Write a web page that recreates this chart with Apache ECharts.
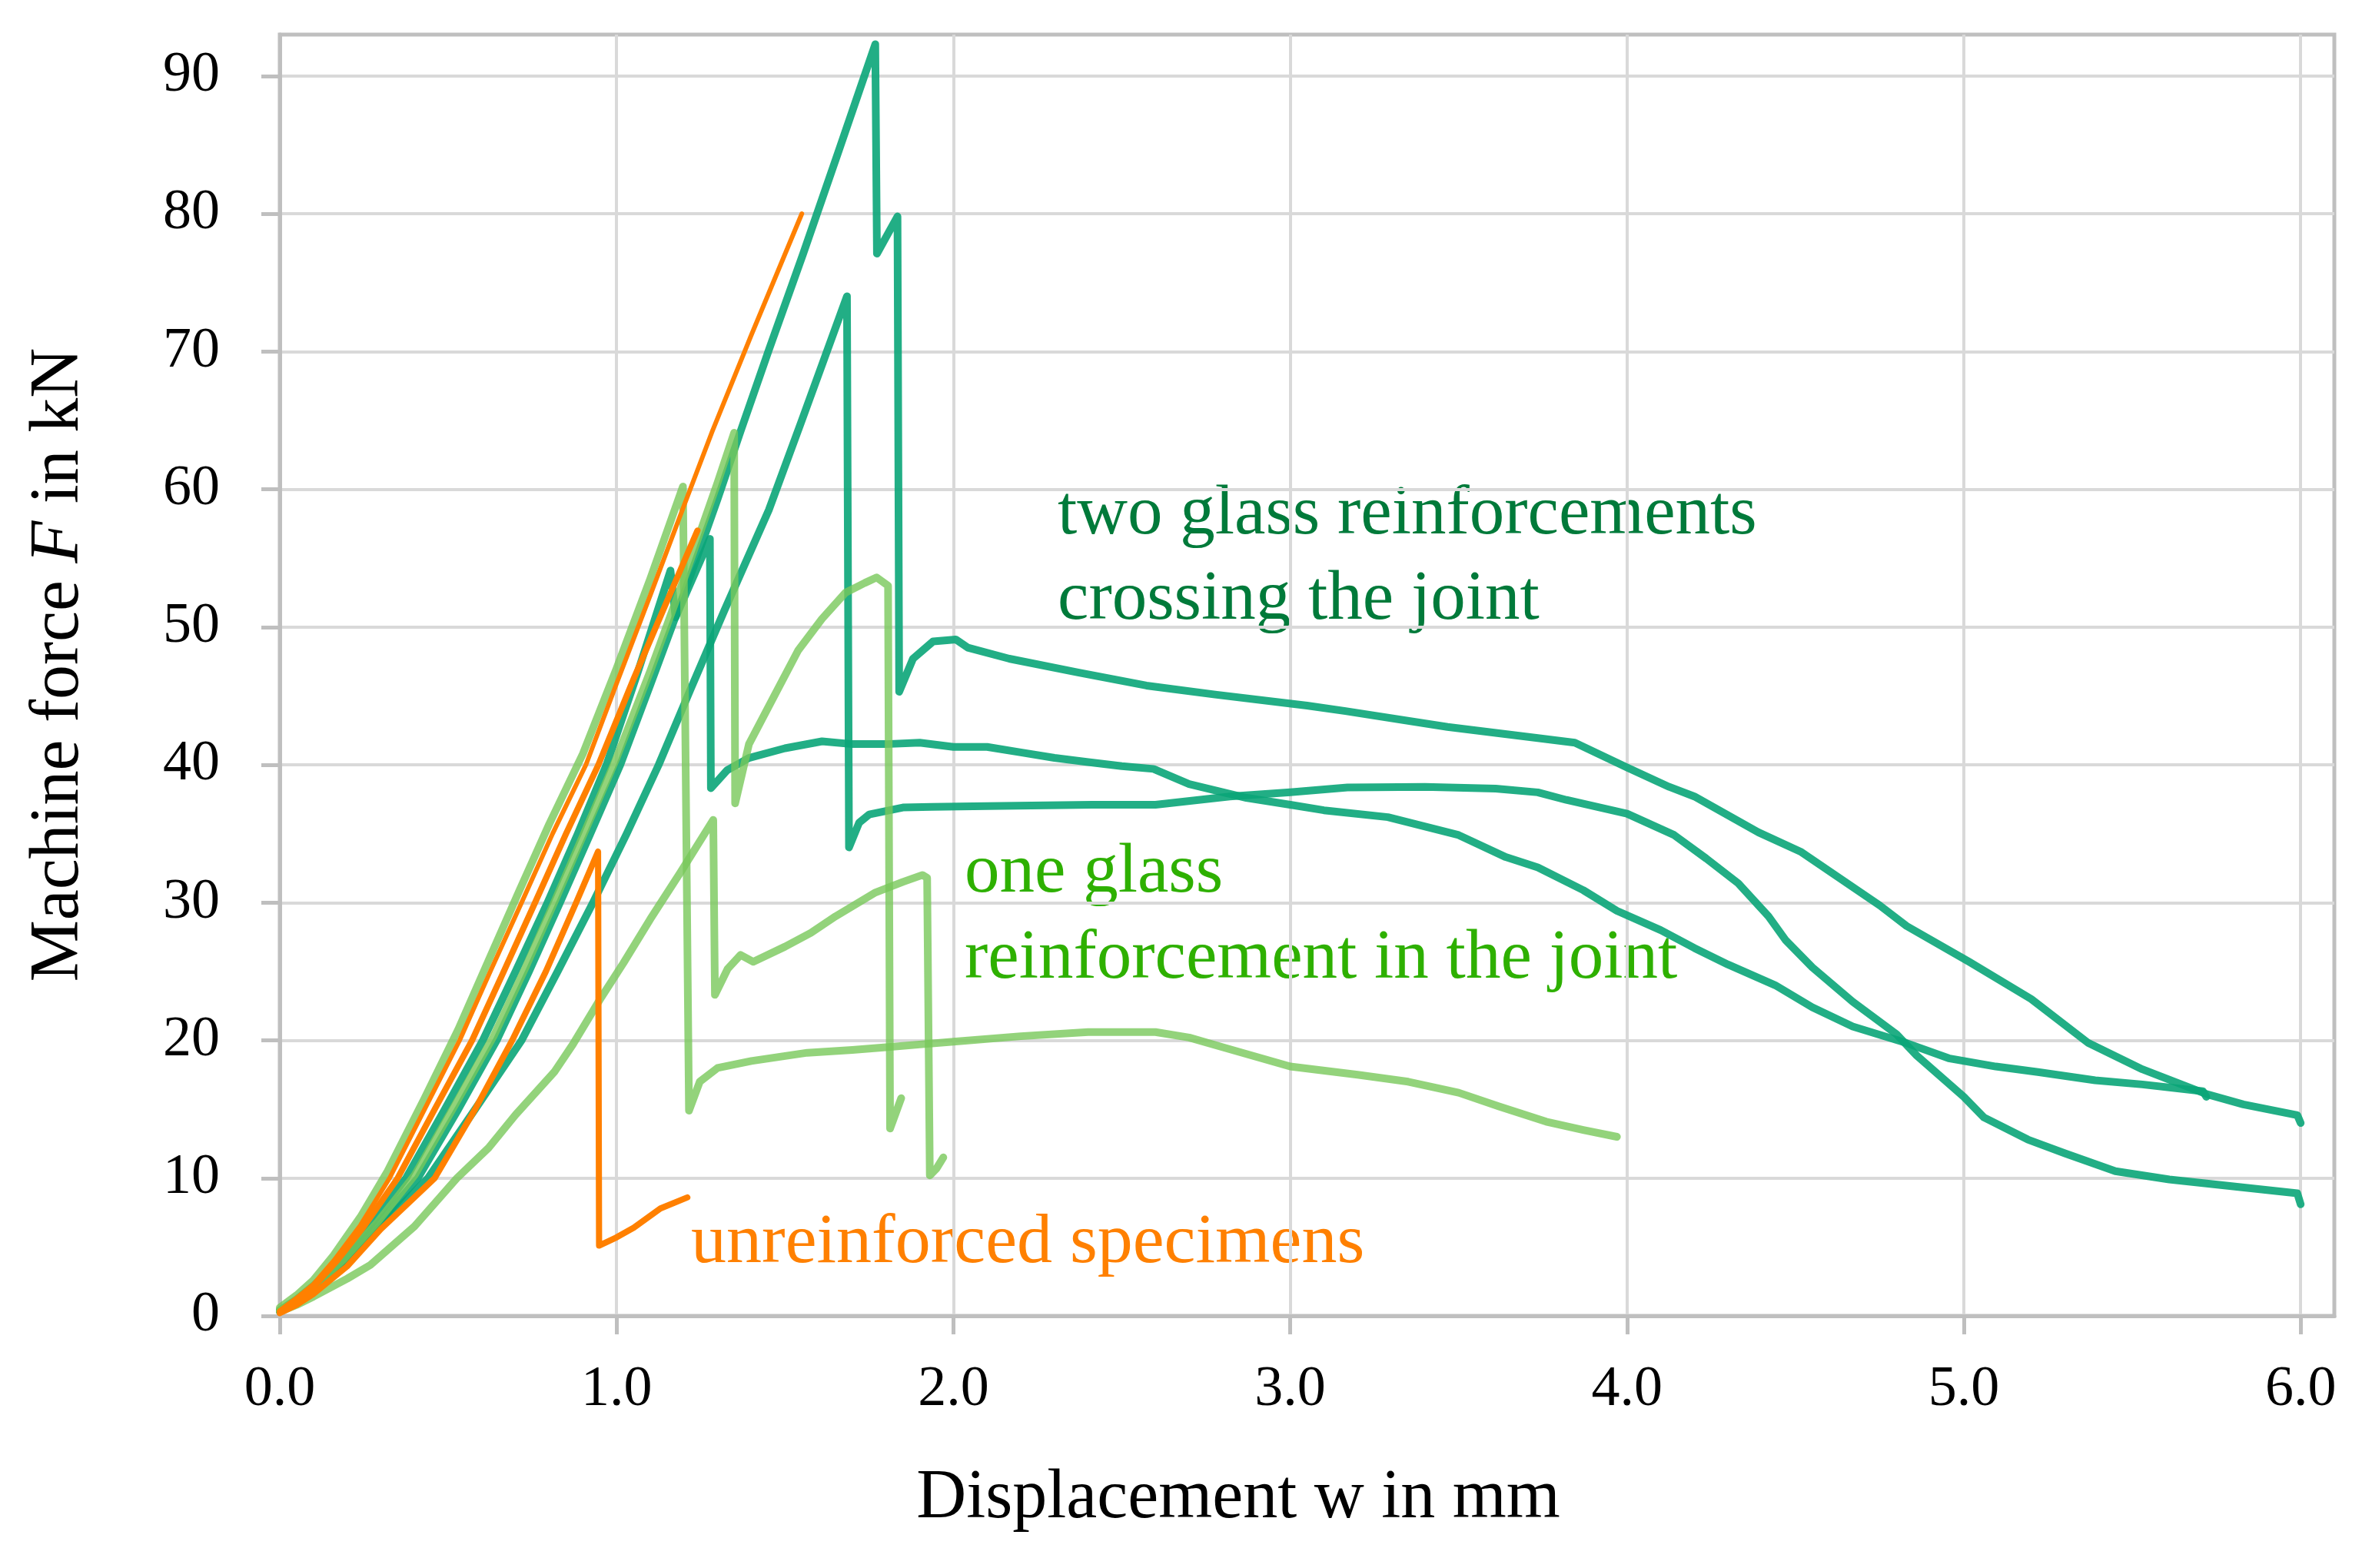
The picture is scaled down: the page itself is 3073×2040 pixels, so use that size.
<!DOCTYPE html>
<html><head><meta charset="utf-8">
<script src="https://cdn.jsdelivr.net/npm/echarts@6/dist/echarts.min.js"></script>
<style>html,body{margin:0;padding:0;background:#fff}#c{width:3073px;height:2040px}</style>
</head><body><div id="c"></div>
<script>
// Displacement w (mm), machine force F (kN)
// two glass reinforcements crossing the joint
var twoGlassA = [[0,0.4],[0.05,1.1],[0.1,2.0],[0.19,4.0],[0.29,6.6],[0.41,10],[0.53,15],[0.644,20],[0.74,25],[0.832,30],[0.922,35],[1.011,40],[1.1,45.8],[1.2,52.4],[1.3,59.3],[1.368,64.2],[1.452,70.1],[1.554,77.1],[1.66,84.6],[1.768,92.3],[1.773,77.1],[1.834,79.8],[1.839,45.3],[1.88,47.7],[1.94,48.96],[2.007,49.1],[2.043,48.5],[2.166,47.7],[2.37,46.7],[2.573,45.75],[2.777,45.1],[3.05,44.3],[3.164,43.9],[3.467,42.75],[3.735,41.94],[3.845,41.6],[4.0,39.8],[4.125,38.4],[4.2,37.7],[4.39,35.1],[4.515,33.7],[4.75,29.8],[4.83,28.3],[5.016,25.7],[5.2,23.0],[5.37,19.8],[5.53,17.9],[5.72,16.1],[5.83,15.35],[5.99,14.57],[6.0,14.0]];
var twoGlassB = [[0,0.3],[0.05,0.9],[0.1,1.7],[0.2,3.8],[0.3,6.5],[0.44,10],[0.58,15],[0.718,20],[0.825,25],[0.93,30],[1.03,35],[1.125,40],[1.22,45.5],[1.32,51.2],[1.452,58.5],[1.55,65.0],[1.684,74.0],[1.69,34.0],[1.72,35.8],[1.75,36.4],[1.85,36.9],[1.936,36.95],[2.1,37.0],[2.41,37.1],[2.6,37.1],[2.82,37.7],[3.0,38.0],[3.17,38.35],[3.4,38.4],[3.61,38.27],[3.735,38.0],[3.82,37.45],[4.0,36.45],[4.14,34.9],[4.235,33.2],[4.33,31.4],[4.42,29.0],[4.47,27.3],[4.55,25.3],[4.67,22.8],[4.8,20.45],[4.86,18.9],[5.0,15.9],[5.06,14.4],[5.19,12.8],[5.3,11.8],[5.45,10.5],[5.61,9.9],[5.8,9.4],[5.99,8.9],[6.0,8.1]];
var twoGlassC = [[0,0.4],[0.05,1.2],[0.1,2.2],[0.18,4.0],[0.27,6.6],[0.375,10],[0.49,15],[0.603,20],[0.70,25],[0.795,30],[0.885,35],[0.97,40],[1.06,46.5],[1.16,54.1],[1.175,50.7],[1.277,56.4],[1.28,38.3],[1.328,39.6],[1.393,40.5],[1.5,41.2],[1.61,41.7],[1.7,41.5],[1.8,41.5],[1.9,41.6],[2.0,41.3],[2.1,41.3],[2.2,40.9],[2.3,40.5],[2.4,40.2],[2.5,39.9],[2.594,39.7],[2.7,38.6],[2.87,37.6],[3.0,37.1],[3.1,36.7],[3.29,36.2],[3.5,34.9],[3.64,33.3],[3.735,32.55],[3.87,30.9],[3.97,29.4],[4.1,28.0],[4.2,26.7],[4.3,25.5],[4.44,24.0],[4.55,22.4],[4.67,21.0],[4.83,19.8],[4.955,18.7],[5.095,18.1],[5.22,17.7],[5.39,17.1],[5.53,16.8],[5.71,16.3],[5.72,15.9]];
// one glass reinforcement in the joint
var oneGlassD = [[0,0.6],[0.05,1.5],[0.1,2.6],[0.16,4.4],[0.24,7.2],[0.32,10.5],[0.43,15.8],[0.53,20.8],[0.62,25.8],[0.71,30.8],[0.8,35.7],[0.9,40.8],[1.0,47.0],[1.1,53.5],[1.197,60.2],[1.215,14.9],[1.247,17.0],[1.3,18.0],[1.4,18.5],[1.566,19.1],[1.7,19.3],[1.8,19.5],[1.9,19.7],[2.0,19.9],[2.2,20.3],[2.4,20.6],[2.6,20.6],[2.7,20.2],[2.8,19.5],[3.0,18.1],[3.2,17.5],[3.35,17.0],[3.5,16.2],[3.62,15.2],[3.76,14.1],[3.87,13.5],[3.97,13.0]];
var oneGlassF = [[0,0.4],[0.05,1.1],[0.1,2.1],[0.19,4.1],[0.29,6.8],[0.40,10.2],[0.52,15.3],[0.635,20.3],[0.73,25.3],[0.82,30.3],[0.91,35.4],[1.0,40.5],[1.1,46.8],[1.2,53.5],[1.3,60.5],[1.349,64.1],[1.352,37.2],[1.393,41.5],[1.466,44.9],[1.539,48.3],[1.61,50.6],[1.68,52.5],[1.737,53.2],[1.772,53.6],[1.806,53.0],[1.812,13.6],[1.83,14.8],[1.845,15.8]];
var oneGlassG = [[0,0.3],[0.05,0.8],[0.1,1.4],[0.2,2.7],[0.269,3.7],[0.4,6.5],[0.526,10],[0.62,12.2],[0.7,14.6],[0.815,17.7],[0.87,19.7],[0.954,23.1],[1.02,25.6],[1.10,28.8],[1.19,32.2],[1.287,36.0],[1.292,23.3],[1.33,25.2],[1.368,26.2],[1.406,25.7],[1.5,26.8],[1.577,27.8],[1.65,29.0],[1.766,30.7],[1.85,31.5],[1.908,32.0],[1.922,31.8],[1.93,10.2],[1.95,10.7],[1.97,11.5]];
// unreinforced specimens
var unreinfA = [[0,0.4],[0.05,1.3],[0.1,2.3],[0.16,4.0],[0.24,6.6],[0.326,10],[0.43,15],[0.534,20],[0.625,25],[0.718,30],[0.81,35],[0.909,40],[1.0,45.9],[1.1,52.3],[1.2,58.8],[1.284,64.2],[1.4,71.2],[1.55,80.0]];
var unreinfB = [[0,0.3],[0.05,1.1],[0.1,2.1],[0.17,4.0],[0.25,6.5],[0.35,10],[0.46,15],[0.571,20],[0.665,25],[0.758,30],[0.85,35],[0.946,40],[1.05,46.2],[1.15,51.9],[1.24,57.0]];
var unreinfC = [[0,0.2],[0.05,0.8],[0.1,1.6],[0.2,3.6],[0.3,6.3],[0.46,10],[0.58,15],[0.69,20],[0.79,25],[0.88,30],[0.945,33.7],[0.948,5.1],[1.0,5.7],[1.051,6.4],[1.13,7.8],[1.21,8.6]];

var xTicks = [0,1,2,3,4,5,6];
var yTicks = [0,10,20,30,40,50,60,70,80,90];
var xTitle = 'Displacement w in mm';
var yTitleParts = ['Machine force ', 'F', ' in kN'];
var labelTwo = ['two glass reinforcements', 'crossing the joint'];
var labelOne = ['one glass', 'reinforcement in the joint'];
var labelNone = ['unreinforced specimens'];

var TEAL = 'rgba(10,165,120,0.9)';
var LGREEN = 'rgba(120,200,90,0.8)';
var ORANGE = '#FF8000';
var SERIF = '"Liberation Serif", "Times New Roman", serif';

function line(name, data, color, width, z) {
  return {name: name, type: 'line', data: data, showSymbol: false, symbol: 'none', z: z,
    lineStyle: {color: color, width: width, cap: 'round', join: 'round'}, animation: false};
}

var chart = echarts.init(document.getElementById('c'), null, {renderer: 'canvas'});
var option = {
  backgroundColor: '#fff',
  animation: false,
  grid: {left: 364, right: 36, top: 45, bottom: 328, show: true, borderColor: '#BFBFBF', borderWidth: 5, containLabel: false},
  xAxis: {
    type: 'value', min: 0, max: 6.1, interval: 1,
    axisLine: {show: true, onZero: false, lineStyle: {color: '#BFBFBF', width: 5}},
    axisTick: {show: true, length: 24, customValues: xTicks, lineStyle: {color: '#BFBFBF', width: 5}},
    axisLabel: {customValues: xTicks, margin: 60, fontSize: 74, fontFamily: SERIF, color: '#000',
      formatter: function (v) { return Math.abs(v - Math.round(v)) < 1e-6 ? Number(v).toFixed(1) : ''; }},
    splitLine: {show: true, lineStyle: {color: '#D9D9D9', width: 4}}
  },
  yAxis: {
    type: 'value', min: 0, max: 93, interval: 10,
    axisLine: {show: true, onZero: false, lineStyle: {color: '#BFBFBF', width: 5}},
    axisTick: {show: true, length: 24, customValues: yTicks, lineStyle: {color: '#BFBFBF', width: 5}},
    axisLabel: {customValues: yTicks, margin: 78, fontSize: 74, fontFamily: SERIF, color: '#000',
      formatter: function (v) { return (v % 10 === 0) ? String(v) : ''; }},
    splitLine: {show: true, lineStyle: {color: '#D9D9D9', width: 4}}
  },
  series: [
    line('two A', twoGlassA, TEAL, 10, 2),
    line('two B', twoGlassB, TEAL, 10, 2),
    line('two C', twoGlassC, TEAL, 10, 2),
    line('one D', oneGlassD, LGREEN, 10, 3),
    line('one F', oneGlassF, LGREEN, 10, 3),
    line('one G', oneGlassG, LGREEN, 10, 3),
    line('unr A', unreinfA, ORANGE, 6, 4),
    line('unr B', unreinfB, ORANGE, 8, 4),
    line('unr C', unreinfC, ORANGE, 8, 4)
  ],
  graphic: [
    {type: 'text', x: 1611, y: 1950, style: {text: xTitle, fontSize: 90, fontFamily: SERIF, fill: '#000', align: 'center', verticalAlign: 'middle'}},
    {type: 'text', x: 77, y: 865, rotation: Math.PI / 2, style: {text: yTitleParts[0] + '{i|' + yTitleParts[1] + '}' + yTitleParts[2], fontSize: 90, fontFamily: SERIF, fill: '#000', align: 'center', verticalAlign: 'middle',
      rich: {i: {fontStyle: 'italic', fontSize: 90, fontFamily: SERIF, fill: '#000'}}}},
    {type: 'text', x: 1376, y: 670, style: {text: labelTwo[0], fontSize: 91, fontFamily: SERIF, fill: '#007A3A', align: 'left', verticalAlign: 'middle'}},
    {type: 'text', x: 1376, y: 781, style: {text: labelTwo[1], fontSize: 91, fontFamily: SERIF, fill: '#007A3A', align: 'left', verticalAlign: 'middle'}},
    {type: 'text', x: 1255, y: 1136, style: {text: labelOne[0], fontSize: 91, fontFamily: SERIF, fill: '#2EB000', align: 'left', verticalAlign: 'middle'}},
    {type: 'text', x: 1255, y: 1248, style: {text: labelOne[1], fontSize: 91, fontFamily: SERIF, fill: '#2EB000', align: 'left', verticalAlign: 'middle'}},
    {type: 'text', x: 899, y: 1618, style: {text: labelNone[0], fontSize: 92, fontFamily: SERIF, fill: ORANGE, align: 'left', verticalAlign: 'middle'}}
  ]
};
chart.setOption(option);
</script></body></html>
